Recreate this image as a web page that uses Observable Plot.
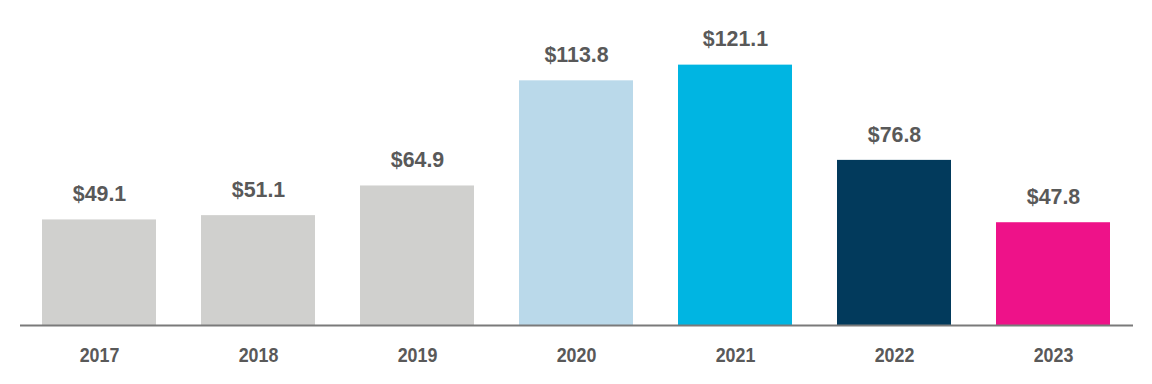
<!DOCTYPE html>
<html>
<head>
<meta charset="utf-8">
<script src="https://cdn.jsdelivr.net/npm/d3@7"></script>
<script src="https://cdn.jsdelivr.net/npm/@observablehq/plot@0.6"></script>
<style>
  html, body { margin: 0; padding: 0; background: #fff; }
  #chart svg { display: block; }
</style>
</head>
<body>
<div id="chart"></div>
<script>
const years = ["2017", "2018", "2019", "2020", "2021", "2022", "2023"];
const values = [49.1, 51.1, 64.9, 113.8, 121.1, 76.8, 47.8];
const colors = ["#d0d0ce", "#d0d0ce", "#d0d0ce", "#bad9ea", "#00b5e2", "#023a5c", "#ee1289"];

const data = years.map((year, i) => ({year, value: values[i], color: colors[i]}));
const font = "'Liberation Sans', Arial, sans-serif";

const chart = Plot.plot({
  width: 1152,
  height: 384,
  marginLeft: 20,
  marginRight: 19,
  marginTop: 24,
  marginBottom: 59,
  style: {fontFamily: font, background: "#fff"},
  x: {domain: years, paddingInner: 0.283, paddingOuter: 0.14},
  y: {domain: [0, 140], axis: null},
  marks: [
    Plot.barY(data, {x: "year", y: "value", fill: "color"}),
    Plot.ruleY([0], {stroke: "#7a7a7a", strokeWidth: 2}),
    Plot.text(data, {
      x: "year", y: "value", text: d => `$${d.value.toFixed(1)}`,
      dy: -26, fontSize: 23, fontWeight: "bold", fill: "#595959", fontFamily: font,
      className: "vlabel"
    }),
    Plot.axisX({
      tickSize: 0, tickPadding: 22, fontSize: 21, fontWeight: "bold",
      fill: "#595959", label: null, fontFamily: font
    })
  ]
});
// condense the text horizontally (narrow bold face)
chart.querySelectorAll("text").forEach(t => {
  const s = t.closest(".vlabel") ? 0.93 : 0.85;
  const tr = t.getAttribute("transform");
  if (tr && tr.includes("translate")) {
    t.setAttribute("transform", tr + ` scale(${s},1)`);
  } else {
    const x = +(t.getAttribute("x") || 0);
    t.setAttribute("transform", `translate(${x},0) scale(${s},1) translate(${-x},0)`);
  }
});
document.getElementById("chart").append(chart);
</script>
</body>
</html>
